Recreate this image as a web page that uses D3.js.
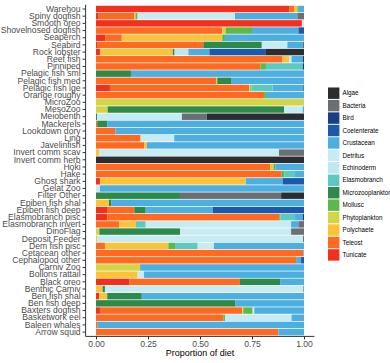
<!DOCTYPE html>
<html lang="en">
<head>
    <meta charset="utf-8">
    <title>Diet composition</title>
    <script src="https://d3js.org/d3.v7.min.js"></script>
    <style type="text/css">
        body { margin: 0; background: white; }
        text { font-family: "Liberation Sans", Arial, sans-serif; }
        .axis path, .axis line { stroke: #333; }
        .axis text { fill: #4d4d4d; font-size: 8.6px; }
    </style>
</head>
<body>
<script type="text/javascript">

const w = 390;
const h = 363;

// predators, top to bottom
const predators = ["Warehou", "Spiny dogfish", "Smooth oreo", "Shovelnosed dogfish", "Seaperch",
    "Seabird", "Rock lobster", "Reef fish", "Pinniped", "Pelagic fish sml", "Pelagic fish med",
    "Pelagic fish lge", "Orange roughy", "MicroZoo", "MesoZoo", "Meiobenth", "Mackerels",
    "Lookdown dory", "Ling", "Javelinfish", "Invert comm scav", "Invert comm herb", "Hoki", "Hake",
    "Ghost shark", "Gelat Zoo", "Filter Other", "Epiben fish shal", "Epiben fish deep",
    "Elasmobranch pisc", "Elasmobranch invert", "DinoFlag", "Deposit Feeder", "Dem fish pisc",
    "Cetacean other", "Cephalopod other", "Carniv Zoo", "Bollons rattail", "Black oreo",
    "Benthic Carniv", "Ben fish shal", "Ben fish deep", "Baxters dogfish", "Basketwork eel",
    "Baleen whales", "Arrow squid"];

// prey groups (legend order)
const prey = ["Algae", "Bacteria", "Bird", "Coelenterate", "Crustacean", "Detritus", "Echinoderm",
    "Elasmobranch", "Microzooplankton", "Mollusc", "Phytoplankton", "Polychaete", "Teleost", "Tunicate"];

const preyColors = ["#2b2d31", "#6c6f71", "#173f86", "#1d59aa", "#4daee0", "#c6ebf2", "#bfe7ee",
    "#5ec9c1", "#2e8a4a", "#5db947", "#d3d545", "#fcc339", "#ff6a20", "#f4301d"];

// proportion of diet, one array per prey group, in predator order
const algae =       [0,0,0,0,0,0,.183,0,0,0, 0,0,0,0,0,.468,0,0,0,0, 0,1,0,0,0,0,.11,0,0,0, 0,0,.003,0,0,0,0,0,0,0, 0,0,0,0,0,0];
const bacteria =    [0,.032,0,0,0,.006,0,0,0,0, 0,0,0,0,0,.119,0,0,0,0, .12,0,0,0,0,0,.486,0,0,0, .027,.062,0,0,0,0,0,0,0,.003, 0,0,0,.003,0,0];
const bird =        [0,0,0,0,0,0,0,.005,.006,0, 0,.003,0,0,0,0,0,0,0,0, 0,0,0,0,0,0,0,0,0,.006, 0,0,0,0,0,0,0,0,0,0, 0,0,0,0,0,0];
const coelenterate = [0,0,0,.027,0,0,.272,0,0,0, 0,0,0,0,0,0,0,0,0,0, 0,0,0,0,.103,0,0,0,.439,0, 0,0,0,0,0,.014,0,0,0,0, 0,0,0,0,0,0];
const crustacean =  [.025,.30,0,.223,.38,.074,.101,.055,0,.832, .351,.148,.183,0,.006,0,.946,.907,.624,.756, 0,0,.138,.043,.177,.981,0,.925,.322,.037, .035,0,0,.433,.003,.024,.788,.769,.115,0, .78,.329,.239,.057,.992,.123];
const detritus =    [0,.468,.01,0,0,.123,0,.01,0,0, 0,0,0,0,.089,.408,0,0,.159,0, .864,0,0,0,0,.019,0,0,0,0, .699,.533,.991,.078,0,0,0,.031,0,.954, 0,0,.008,.32,0,0];
const echinoderm =  [0,0,0,0,0,0,.066,0,0,0, 0,0,0,0,0,0,0,0,0,0, 0,0,0,0,0,0,0,0,0,0, 0,0,0,0,0,0,0,0,0,0, 0,0,0,0,0,0];
const elasmobranch = [0,0,0,0,0,0,0,0,.177,0, 0,.102,0,0,0,0,0,0,0,0, 0,0,0,.052,0,0,0,0,0,.071, .047,0,0,.109,0,0,0,0,0,0, 0,0,0,0,0,0];
const microzoo =    [0,0,0,0,0,.281,.009,0,0,.168, .066,0,0,0,.849,.005,.048,0,0,0, 0,0,0,0,0,0,.404,.013,.055,0, 0,.389,0,0,0,0,0,0,.193,.011, .166,.671,0,0,0,0];
const mollusc =     [.007,.01,0,.127,.013,0,0,0,.027,0, 0,.005,.009,0,0,0,0,0,0,0, 0,0,.009,.012,0,0,0,0,0,.005, 0,0,0,.032,0,0,0,0,0,0, 0,0,.045,.008,0,0];
const phyto =       [0,0,0,0,0,0,0,0,0,0, 0,0,0,1,.056,0,0,0,0,0, 0,0,0,0,0,0,0,0,0,0, 0,.016,0,0,0,0,.212,0,0,0, 0,0,0,0,0,0];
const polychaete =  [.016,.007,0,.016,.483,0,.35,.033,0,0, .006,.006,0,0,0,0,0,0,.005,.013, .016,0,.016,0,.701,0,0,.062,0,0, .08,0,.006,.305,0,0,0,.2,0,.032, .038,0,.005,0,0,0];
const teleost =     [.022,.173,0,.607,.078,.508,0,.897,.79,0, .577,.669,.808,0,0,0,.006,.093,.212,.231, 0,0,.837,.893,0,0,0,0,.131,.827, .112,0,0,.043,.997,.962,0,0,.533,0, 0,0,.684,.612,.008,.877];
const tunicate =    [.93,.01,.99,0,.046,.008,.019,0,0,0, 0,.067,0,0,0,0,0,0,0,0, 0,0,0,0,.019,0,0,0,.053,.054, 0,0,0,0,0,0,0,0,.159,0, .016,0,.019,0,0,0];

const series = [algae, bacteria, bird, coelenterate, crustacean, detritus, echinoderm,
    elasmobranch, microzoo, mollusc, phyto, polychaete, teleost, tunicate];

const xTicks = [0, 0.25, 0.5, 0.75, 1];

// table for d3.stack
const table = predators.map((p, i) => {
    const row = { predator: p };
    prey.forEach((g, j) => { row[g] = series[j][i]; });
    return row;
});

// panel
const panelLeft = 85.6, panelRight = 314.4, panelTop = 4.7, panelBottom = 336.4;
const pad = (panelRight - panelLeft) / 1.1 * 0.05;

const xScale = d3.scaleLinear()
    .domain([0, 1])
    .range([panelLeft + pad, panelRight - pad]);

const yScale = d3.scaleBand()
    .domain(predators)
    .range([panelTop, panelBottom])
    .paddingInner(0.1)
    .paddingOuter(0.15);

const color = d3.scaleOrdinal().domain(prey).range(preyColors);

// stacked left to right: Tunicate first, Algae last
const stack = d3.stack()
    .keys(prey.slice().reverse())
    .offset(d3.stackOffsetExpand);
const layers = stack(table);

const svg = d3.select("body")
    .append("svg")
    .attr("width", w)
    .attr("height", h)
    .style("background-color", "white");

svg.append("g")
    .selectAll("g")
    .data(layers)
    .join("g")
    .attr("fill", d => color(d.key))
    .selectAll("rect")
    .data(d => d)
    .join("rect")
    .attr("x", d => xScale(d[0]))
    .attr("y", d => yScale(d.data.predator))
    .attr("width", d => Math.max(0, xScale(d[1]) - xScale(d[0])))
    .attr("height", yScale.bandwidth());

// axes
const leftAxis = d3.axisLeft(yScale).tickSize(3).tickPadding(2).tickSizeOuter(0);
const gy = svg.append("g")
    .attr("class", "axis")
    .attr("transform", "translate(" + panelLeft + ",0)")
    .call(leftAxis);
gy.select(".domain").attr("d", "M0," + panelTop + "V" + panelBottom);

const bottomAxis = d3.axisBottom(xScale)
    .tickValues(xTicks)
    .tickFormat(d3.format(".2f"))
    .tickSize(3)
    .tickPadding(2)
    .tickSizeOuter(0);
const gx = svg.append("g")
    .attr("class", "axis")
    .attr("transform", "translate(0," + panelBottom + ")")
    .call(bottomAxis);
gx.select(".domain").attr("d", "M" + panelLeft + ",0H" + panelRight);

// axis title
svg.append("text")
    .attr("x", (panelLeft + panelRight) / 2)
    .attr("y", 356)
    .attr("text-anchor", "middle")
    .attr("font-size", "9px")
    .attr("fill", "black")
    .text("Proportion of diet");

// legend
const keyStep = 12.44;
const legend = svg.append("g")
    .attr("transform", "translate(327.5," + (93.2 - keyStep / 2) + ")");

const items = legend.selectAll("g")
    .data(prey)
    .join("g")
    .attr("transform", (d, i) => "translate(0," + i * keyStep + ")");

items.append("rect")
    .attr("x", 0.5)
    .attr("y", 0.5)
    .attr("width", 11.4)
    .attr("height", keyStep - 1)
    .attr("fill", d => color(d));

items.append("text")
    .attr("x", 15)
    .attr("y", keyStep / 2)
    .attr("dy", "0.35em")
    .attr("font-size", "6.3px")
    .attr("fill", "black")
    .text(d => d);

</script>
</body>
</html>
